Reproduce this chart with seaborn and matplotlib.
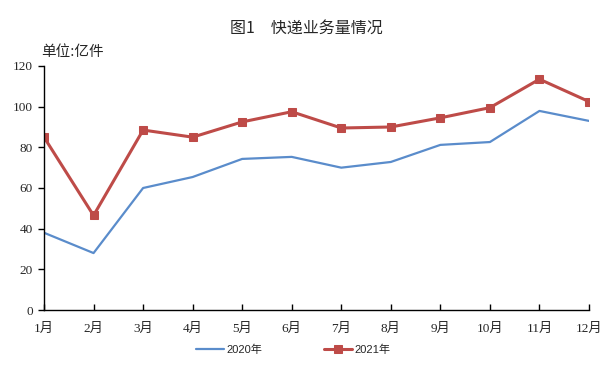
import matplotlib
matplotlib.use("Agg")
import matplotlib.pyplot as plt
import seaborn as sns
import pandas as pd

months = ["1月", "2月", "3月", "4月", "5月", "6月", "7月", "8月", "9月", "10月", "11月", "12月"]
v2020 = [38, 28, 60, 65.4, 74.3, 75.3, 70, 72.8, 81.2, 82.6, 97.9, 93]
v2021 = [85, 46.5, 88.5, 85, 92.5, 97.5, 89.5, 90, 94.5, 99.5, 113.5, 102.5]
series = ["2020年", "2021年"]
yticks = [0, 20, 40, 60, 80, 100, 120]

sns.set_theme(style="white")
plt.rcParams['font.family'] = ['Noto Sans CJK SC', 'DejaVu Sans']

df = pd.DataFrame({
    "idx": list(range(len(months))) * 2,
    "value": v2020 + v2021,
    "series": [series[0]] * len(months) + [series[1]] * len(months),
})

fig = plt.figure(figsize=(6.12, 3.76), dpi=100)
ax = fig.add_axes([0.0719, 0.1755, 0.8905, 0.649])

sns.lineplot(data=df[df.series == series[0]], x="idx", y="value", ax=ax,
             color="#5A8CCB", lw=1.6, label=series[0])
sns.lineplot(data=df[df.series == series[1]], x="idx", y="value", ax=ax,
             color="#BE4B48", lw=2.2, marker="s", markersize=5.5,
             markeredgecolor="#BE4B48", label=series[1])

ax.set_xlim(0, len(months) - 1)
ax.set_ylim(0, 120)
ax.set_yticks(yticks)
ax.set_yticklabels([str(t) for t in yticks], family=['Liberation Serif', 'Noto Sans CJK SC'], fontsize=9.5)
ax.set_xticks(range(len(months)))
ax.set_xticklabels(months, family=['Liberation Serif', 'Noto Sans CJK SC'], fontsize=9.5)
ax.set_xlabel("")
ax.set_ylabel("")
for s in ["top", "right"]:
    ax.spines[s].set_visible(False)
for s in ["left", "bottom"]:
    ax.spines[s].set_color("black")
    ax.spines[s].set_linewidth(1.0)
ax.tick_params(axis="y", direction="out", length=4, width=1, color="black", left=True, pad=4)
ax.tick_params(axis="x", direction="in", length=4, width=1, color="black", bottom=True, pad=9)
ax.grid(False)

leg = ax.legend(loc="center", bbox_to_anchor=(293 / 612, 1 - 350 / 376),
                bbox_transform=fig.transFigure, ncol=2, frameon=False,
                prop={'family': ['Liberation Sans', 'Noto Sans CJK SC'], 'size': 8},
                handlelength=2.5, columnspacing=5.6, handletextpad=0.2)

fig.text(306 / 612, 1 - 28 / 376, "图1　快递业务量情况", ha="center", va="center", fontsize=11.5)
fig.text(41 / 612, 1 - 52 / 376, "单位:亿件", ha="left", va="center", fontsize=10.5)

fig.savefig("out.png", dpi=100)
